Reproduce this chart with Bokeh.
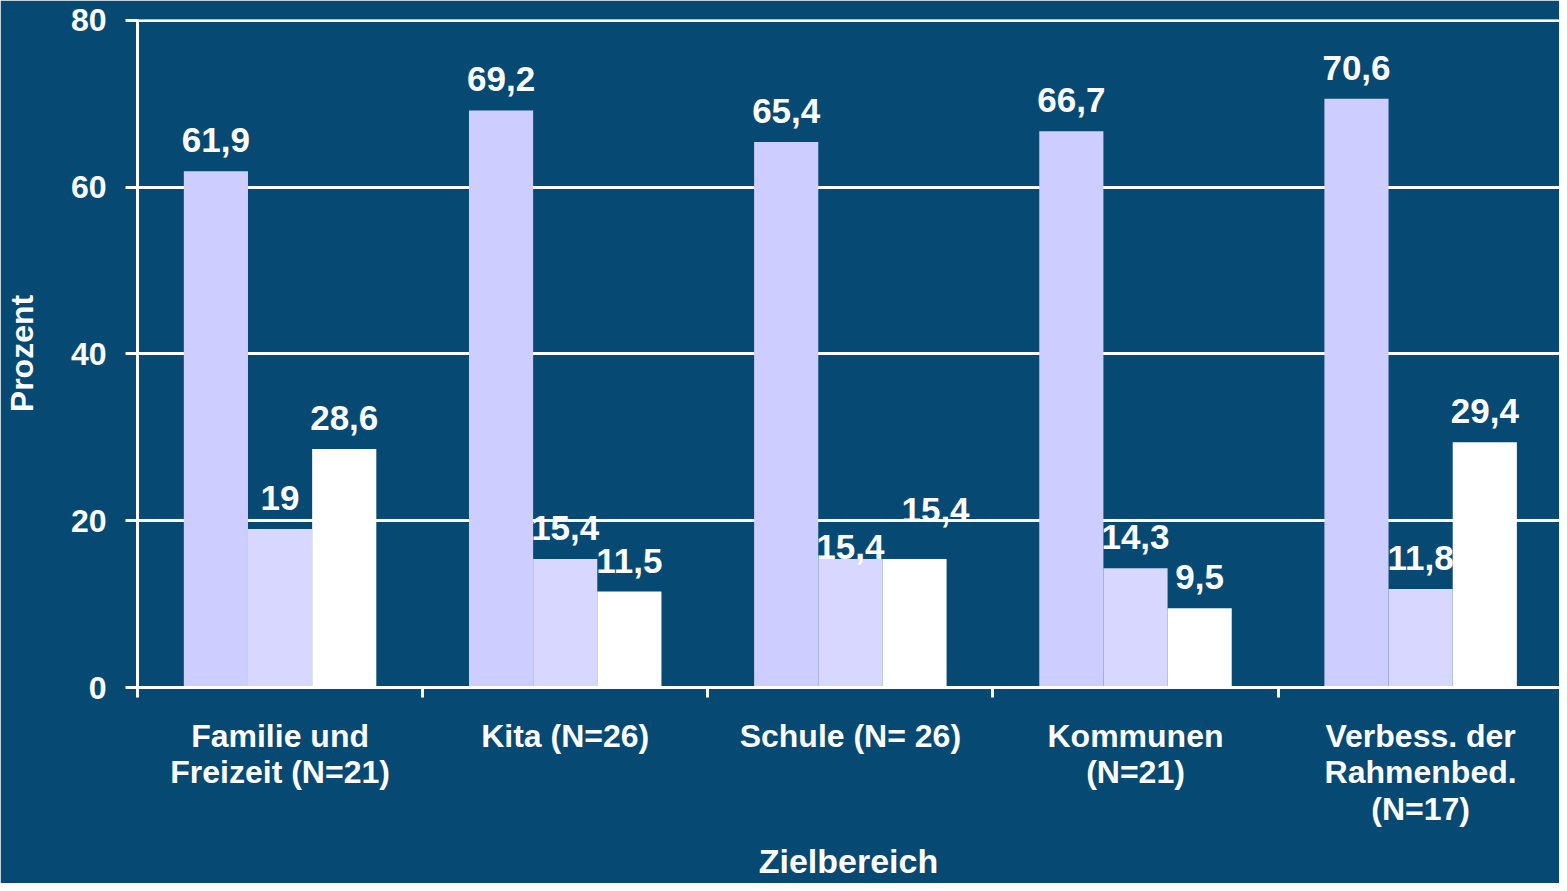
from bokeh.plotting import figure
from bokeh.models import Range1d, FixedTicker, ColumnDataSource
from bokeh.transform import dodge
from bokeh.embed import file_html
from bokeh.resources import INLINE
from bokeh.core.properties import value

# ---- data ----
categories = [
    "Familie und\nFreizeit (N=21)",
    "Kita (N=26)",
    "Schule (N= 26)",
    "Kommunen\n(N=21)",
    "Verbess. der\nRahmenbed.\n(N=17)",
]
series_a = [61.9, 69.2, 65.4, 66.7, 70.6]
series_b = [19.0, 15.4, 15.4, 14.3, 11.8]
series_c = [28.6, 11.5, 15.4, 9.5, 29.4]
y_ticks = [0, 20, 40, 60, 80]

# manual label nudges (pixels) as in the original
label_dx_c = [0, 0, 21, 0, 0]
label_dy_b = [0, 0, 19, 0, 0]
label_dy_c = [0, 0, -18, 0, 0]

BG = "#064A73"
COLORS = ["#CDCDFF", "#D7D7FF", "#FFFFFF"]
FONT = value("Liberation Sans")
BASE_DY = -31


def fmt(v):
    return ("%g" % v).replace(".", ",")


centers = [i + 0.5 for i in range(len(categories))]
n = len(categories)
src = ColumnDataSource(dict(
    xc=centers,
    a=series_a, b=series_b, c=series_c,
    la=[fmt(v) for v in series_a],
    lb=[fmt(v) for v in series_b],
    lc=[fmt(v) for v in series_c],
    dxa=[0] * n, dya=[BASE_DY] * n,
    dxb=[0] * n, dyb=[BASE_DY + d for d in label_dy_b],
    dxc=label_dx_c, dyc=[BASE_DY + d for d in label_dy_c],
))

p = figure(
    width=1559, height=883,
    x_range=Range1d(0, 4.987), y_range=Range1d(0, 80.1),
    output_backend="svg", toolbar_location=None,
    min_border_left=134, min_border_right=0,
    min_border_top=19, min_border_bottom=196,
    background_fill_color=BG, border_fill_color=BG,
    outline_line_color=None,
)

W = 0.225
offsets = [-W, 0.0, W]
for (col, lab, dx, dy), off, color in zip(
    [("a", "la", "dxa", "dya"), ("b", "lb", "dxb", "dyb"), ("c", "lc", "dxc", "dyc")],
    offsets, COLORS,
):
    xs = dodge("xc", off, range=p.x_range)
    p.vbar(x=xs, top=col, width=W, bottom=0, source=src,
           fill_color=color, line_color=None)
    p.text(x=xs, y=col, text=lab, source=src,
           x_offset=dx, y_offset=dy,
           text_align="center", text_baseline="alphabetic",
           text_font=FONT, text_font_style="bold",
           text_font_size="35px", text_color="white")

# grid
p.xgrid.grid_line_color = None
p.ygrid.grid_line_color = "white"
p.ygrid.grid_line_width = 3

# x axis
xa = p.xaxis[0]
xa.ticker = FixedTicker(ticks=centers, minor_ticks=list(range(n + 1)))
xa.major_label_overrides = {c: lab for c, lab in zip(centers, categories)}
xa.major_tick_line_color = None
xa.major_tick_out = 10
xa.major_tick_in = 0
xa.minor_tick_line_color = "white"
xa.minor_tick_line_width = 3
xa.minor_tick_out = 10
xa.minor_tick_in = 0
xa.axis_line_color = "white"
xa.axis_line_width = 3
xa.major_label_standoff = 20
xa.major_label_text_font = "Liberation Sans"
xa.major_label_text_font_style = "bold"
xa.major_label_text_font_size = "32px"
xa.major_label_text_color = "white"
xa.major_label_text_line_height = 1.02
xa.axis_label = "Zielbereich"
xa.axis_label_standoff = 12
xa.axis_label_text_font = "Liberation Sans"
xa.axis_label_text_font_style = "bold"
xa.axis_label_text_font_size = "34px"
xa.axis_label_text_color = "white"

# y axis
ya = p.yaxis[0]
ya.ticker = FixedTicker(ticks=y_ticks, minor_ticks=[])
ya.major_tick_out = 12
ya.major_tick_in = 0
ya.major_tick_line_color = "white"
ya.major_tick_line_width = 3
ya.axis_line_color = "white"
ya.axis_line_width = 3
ya.major_label_standoff = 19
ya.major_label_text_font = "Liberation Sans"
ya.major_label_text_font_style = "bold"
ya.major_label_text_font_size = "32px"
ya.major_label_text_color = "white"
ya.axis_label = "Prozent"
ya.axis_label_standoff = 28
ya.axis_label_text_font = "Liberation Sans"
ya.axis_label_text_font_style = "bold"
ya.axis_label_text_font_size = "32px"
ya.axis_label_text_color = "white"

open("out.html", "w").write(file_html(p, INLINE))
